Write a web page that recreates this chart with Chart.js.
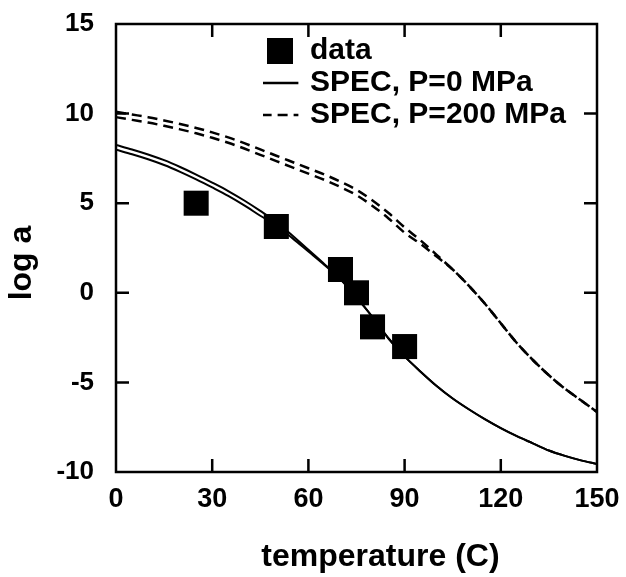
<!DOCTYPE html>
<html><head><meta charset="utf-8">
<script src="https://cdn.jsdelivr.net/npm/chart.js@4/dist/chart.umd.min.js"></script>
<style>html,body{margin:0;padding:0;background:#fff}#wrap{width:626px;height:577px}</style>
</head><body><div id="wrap"><canvas id="c" width="626" height="577"></canvas></div>
<script>
const temps = [0,5,10,15,20,25,30,35,40,45,50,55,60,65,70,75,80,85,90,95,100,105,110,115,120,125,130,135,140,145,150];
const dataTemps = [25, 50, 70, 75, 80, 90];
const dataLogA = [5.0, 3.7, 1.3, 0.0, -1.9, -3.0];
const spec0Upper = [8.25,8.0,7.72,7.4,7.02,6.6,6.15,5.68,5.15,4.57,3.95,3.2,2.4,1.6,0.75,-0.25,-1.35,-2.55,-3.55,-4.4,-5.2,-5.9,-6.5,-7.05,-7.55,-8.0,-8.4,-8.8,-9.1,-9.35,-9.55];
const spec0Lower = [7.98,7.73,7.45,7.13,6.75,6.33,5.88,5.41,4.88,4.3,3.75,3.05,2.3,1.55,0.75,-0.25,-1.35,-2.55,-3.55,-4.4,-5.2,-5.9,-6.5,-7.05,-7.55,-8.0,-8.4,-8.8,-9.1,-9.35,-9.55];
const spec200Upper = [10.1,9.95,9.8,9.62,9.42,9.2,8.95,8.67,8.35,8.0,7.65,7.3,6.95,6.6,6.2,5.75,5.15,4.45,3.65,2.92,2.12,1.3,0.4,-0.6,-1.7,-2.8,-3.75,-4.6,-5.35,-6.0,-6.65];
const spec200Lower = [9.8,9.65,9.5,9.32,9.12,8.9,8.65,8.37,8.05,7.7,7.35,7.0,6.65,6.3,5.9,5.45,4.85,4.15,3.35,2.72,2.02,1.3,0.4,-0.6,-1.7,-2.8,-3.75,-4.6,-5.35,-6.0,-6.65];
const xTicks = [0, 30, 60, 90, 120, 150];
const yTicks = [-10, -5, 0, 5, 10, 15];
const seriesLabels = ['data', 'SPEC, P=0 MPa', 'SPEC, P=200 MPa'];
const xTitle = 'temperature (C)';
const yTitle = 'log a';

const FONT = '"Liberation Sans", Arial, Helvetica, sans-serif';
const pts = (xs, ys) => xs.map((x, i) => ({x: x, y: ys[i]}));

const lineDs = (label, ys, dash, w) => ({
  label: label, data: pts(temps, ys), showLine: true, borderColor: '#000', backgroundColor: '#000',
  borderWidth: w, borderDash: dash, pointRadius: 0, pointHoverRadius: 0, pointStyle: 'line',
  cubicInterpolationMode: 'monotone', fill: false
});

const framePlugin = {
  id: 'frame',
  afterLayout(chart) {
    const lg = chart.legend, a = chart.chartArea;
    if (!lg) return;
    lg.left = a.left + 147; lg.top = a.top + 10;
    lg.width = 400; lg.height = 150;
    lg.right = lg.left + 400; lg.bottom = lg.top + 150;
  },
  afterDraw(chart) {
    const {ctx, chartArea: a, scales: {x, y}} = chart;
    ctx.save();
    ctx.strokeStyle = '#000'; ctx.lineWidth = 2.5; ctx.setLineDash([]);
    ctx.strokeRect(a.left, a.top, a.right - a.left, a.bottom - a.top);
    const TL = 13;
    ctx.beginPath();
    x.ticks.forEach(t => {
      if (t.value === x.min || t.value === x.max) return;
      const px = x.getPixelForValue(t.value);
      ctx.moveTo(px, a.bottom); ctx.lineTo(px, a.bottom - TL);
      ctx.moveTo(px, a.top); ctx.lineTo(px, a.top + TL);
    });
    y.ticks.forEach(t => {
      if (t.value === y.min || t.value === y.max) return;
      const py = y.getPixelForValue(t.value);
      ctx.moveTo(a.left, py); ctx.lineTo(a.left + TL, py);
      ctx.moveTo(a.right, py); ctx.lineTo(a.right - TL, py);
    });
    ctx.stroke();
    ctx.fillStyle = '#000';
    ctx.font = 'bold 32px ' + FONT;
    ctx.textAlign = 'center'; ctx.textBaseline = 'middle';
    ctx.fillText(xTitle, (a.left + a.right) / 2 + 24, a.bottom + 85);
    ctx.translate(a.left - 94, (a.top + a.bottom) / 2 + 15);
    ctx.rotate(-Math.PI / 2);
    ctx.fillText(yTitle, 0, 0);
    ctx.restore();
  }
};

new Chart(document.getElementById('c'), {
  type: 'scatter',
  data: {
    datasets: [
      { label: seriesLabels[0], data: pts(dataTemps, dataLogA), pointStyle: 'rect', pointRadius: 17.7,
        pointHoverRadius: 17.7, backgroundColor: '#000', borderColor: '#000', borderWidth: 0 },
      lineDs(seriesLabels[1], spec0Upper, [], 2),
      lineDs(seriesLabels[2], spec200Upper, [10, 6], 2.5),
      lineDs(seriesLabels[1], spec0Lower, [], 2),
      lineDs(seriesLabels[2], spec200Lower, [10, 6], 2.5)
    ]
  },
  options: {
    responsive: false, animation: false, devicePixelRatio: 1,
    layout: { padding: { top: 24, right: 29, left: 0, bottom: 0 } },
    plugins: {
      tooltip: { enabled: false },
      legend: {
        position: 'chartArea', align: 'start',
        labels: {
          usePointStyle: true, boxWidth: 30, boxHeight: 26, padding: 2, color: '#000',
          font: { family: FONT, size: 30, weight: 'bold' },
          filter: item => item.datasetIndex < 3,
          generateLabels: chart => Chart.defaults.plugins.legend.labels.generateLabels(chart).map(it => {
            const ds = chart.data.datasets[it.datasetIndex];
            if (it.datasetIndex > 0) { it.lineDash = ds.borderDash; it.lineWidth = 2.5; it.strokeStyle = '#000'; }
            else { it.lineWidth = 0; }
            return it;
          })
        }
      }
    },
    scales: {
      x: {
        type: 'linear', min: 0, max: 150,
        afterBuildTicks: s => { s.ticks = xTicks.map(v => ({value: v})); },
        afterFit: s => { s.height = 105; s.paddingLeft = 0; s.paddingRight = 0; },
        grid: { display: false, drawTicks: false }, border: { display: false },
        ticks: { color: '#000', padding: 11, maxRotation: 0, font: { family: FONT, size: 27, weight: 'bold' } }
      },
      y: {
        type: 'linear', min: -10, max: 15,
        afterBuildTicks: s => { s.ticks = yTicks.map(v => ({value: v})); },
        afterFit: s => { s.width = 116; s.paddingTop = 0; s.paddingBottom = 0; },
        grid: { display: false, drawTicks: false }, border: { display: false },
        ticks: { color: '#000', padding: 22, font: { family: FONT, size: 26, weight: 'bold' } }
      }
    }
  },
  plugins: [framePlugin]
});
</script></body></html>
